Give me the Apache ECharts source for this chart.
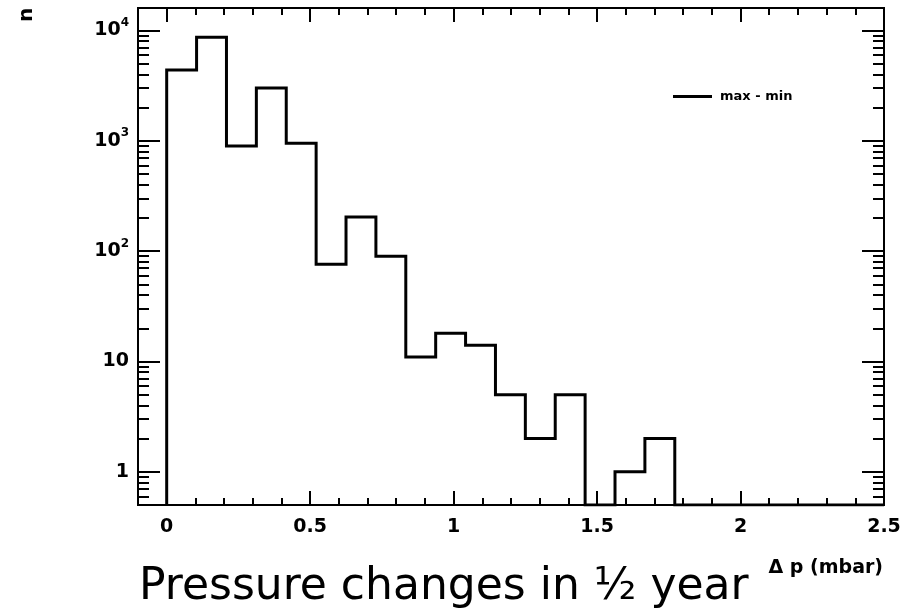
<!DOCTYPE html>
<html><head><meta charset="utf-8">
<script src="https://cdn.jsdelivr.net/npm/echarts@6/dist/echarts.min.js"></script>
<style>html,body{margin:0;padding:0;background:#fff}#c{width:912px;height:610px}</style>
</head><body><div id="c"></div>
<script>
// ---- data ----
const binLow = 0, binHigh = 2.5, nBins = 24;
const counts = [4380, 8690, 900, 3015, 953, 76, 204, 90, 11, 18, 14, 5, 2, 5, 0, 1, 2, 0, 0, 0, 0, 0, 0, 0];
const seriesName = 'max - min';
const xRange = [-0.1, 2.5];
const yRange = [0.5, 16000];
const xMajorTicks = [0, 0.5, 1, 1.5, 2, 2.5];
const xMinorTicks = [0.1, 0.2, 0.3, 0.4, 0.6, 0.7, 0.8, 0.9, 1.1, 1.2, 1.3, 1.4, 1.6, 1.7, 1.8, 1.9, 2.1, 2.2, 2.3, 2.4];
const yMajorTicks = [1, 10, 100, 1000, 10000];
const yMinorTicks = [0.6, 0.7, 0.8, 0.9, 2, 3, 4, 5, 6, 7, 8, 9, 20, 30, 40, 50, 60, 70, 80, 90,
  200, 300, 400, 500, 600, 700, 800, 900, 2000, 3000, 4000, 5000, 6000, 7000, 8000, 9000];
const titleText = 'Pressure changes in \u00BD year';
const xTitle = '\u0394 p (mbar)';
const yTitle = 'n';

// ---- build step histogram points from bins ----
const binW = (binHigh - binLow) / nBins;
const pts = [[binLow, yRange[0]]];
counts.forEach((c, i) => pts.push([binLow + i * binW, Math.max(c, yRange[0])]));
pts.push([binHigh, Math.max(counts[nBins - 1], yRange[0])]);

const BOLD = { fontFamily: 'DejaVu Sans', fontWeight: 'bold', color: '#000' };

function xAx(pos, ticks, len, showLabel) {
  return {
    type: 'value', position: pos, min: xRange[0], max: xRange[1],
    axisLine: { show: true, onZero: false, lineStyle: { color: '#000', width: 2 } },
    axisTick: { show: true, inside: true, length: len, customValues: ticks, lineStyle: { color: '#000', width: 2 } },
    axisLabel: showLabel ? Object.assign({ show: true, customValues: ticks, fontSize: 19, margin: 13,
      formatter: v => String(v) }, BOLD) : { show: false },
    splitLine: { show: false }
  };
}
function yAx(pos, ticks, len, showLabel) {
  return {
    type: 'log', logBase: 10, position: pos, min: yRange[0], max: yRange[1],
    axisLine: { show: true, onZero: false, lineStyle: { color: '#000', width: 2 } },
    axisTick: { show: true, inside: true, length: len, customValues: ticks, lineStyle: { color: '#000', width: 2 } },
    axisLabel: showLabel ? Object.assign({ show: true, customValues: ticks, fontSize: 19, margin: 9,
      formatter: v => v >= 100 ? '{b|10}{s|' + Math.round(Math.log10(v)) + '}' : '{b|' + String(Math.round(v)) + '}',
      rich: {
        b: { fontSize: 19, lineHeight: 19, fontWeight: 'bold', fontFamily: 'DejaVu Sans', color: '#000', verticalAlign: 'bottom' },
        s: { fontSize: 12, lineHeight: 12, fontWeight: 'bold', fontFamily: 'DejaVu Sans', color: '#000', verticalAlign: 'bottom', padding: [0, 0, 11, 0] }
      }
    }, BOLD) : { show: false },
    splitLine: { show: false }
  };
}

const chart = echarts.init(document.getElementById('c'), null, { renderer: 'canvas' });
chart.setOption({
  animation: false,
  backgroundColor: '#fff',
  grid: { left: 138, right: 28, top: 8, bottom: 105, containLabel: false },
  xAxis: [
    xAx('bottom', xMajorTicks, 14, true),
    xAx('bottom', xMinorTicks, 7, false),
    xAx('top', xMajorTicks, 14, false),
    xAx('top', xMinorTicks, 7, false)
  ],
  yAxis: [
    yAx('left', yMajorTicks, 22, true),
    yAx('left', yMinorTicks, 11, false),
    yAx('right', yMajorTicks, 22, false),
    yAx('right', yMinorTicks, 11, false)
  ],
  title: {
    text: titleText, left: 134, top: 561,
    textStyle: { fontFamily: 'DejaVu Sans', fontWeight: 'normal', fontSize: 44, color: '#000' }
  },
  legend: {
    left: 668, top: 85, itemWidth: 39, itemHeight: 14, itemGap: 5,
    data: [{ name: seriesName, icon: 'path://M0,6 L39,6 L39,9 L0,9 Z' }],
    textStyle: Object.assign({ fontSize: 13, padding: [0, 0, 0, 3] }, BOLD)
  },
  graphic: [
    { type: 'text', right: 29, top: 559, style: { text: xTitle, fontSize: 19, fontWeight: 'bold', fontFamily: 'DejaVu Sans', fill: '#000' } },
    { type: 'text', x: 27, y: 15, rotation: Math.PI / 2, style: { text: yTitle, fontSize: 20, fontWeight: 'bold', fontFamily: 'DejaVu Sans', fill: '#000', align: 'center', verticalAlign: 'middle' } }
  ],
  series: [{
    name: seriesName, type: 'line', step: 'end', xAxisIndex: 0, yAxisIndex: 0,
    data: pts, showSymbol: false, symbol: 'none',
    lineStyle: { color: '#000', width: 3, join: 'miter' }, itemStyle: { color: '#000' }
  }]
});
</script></body></html>
